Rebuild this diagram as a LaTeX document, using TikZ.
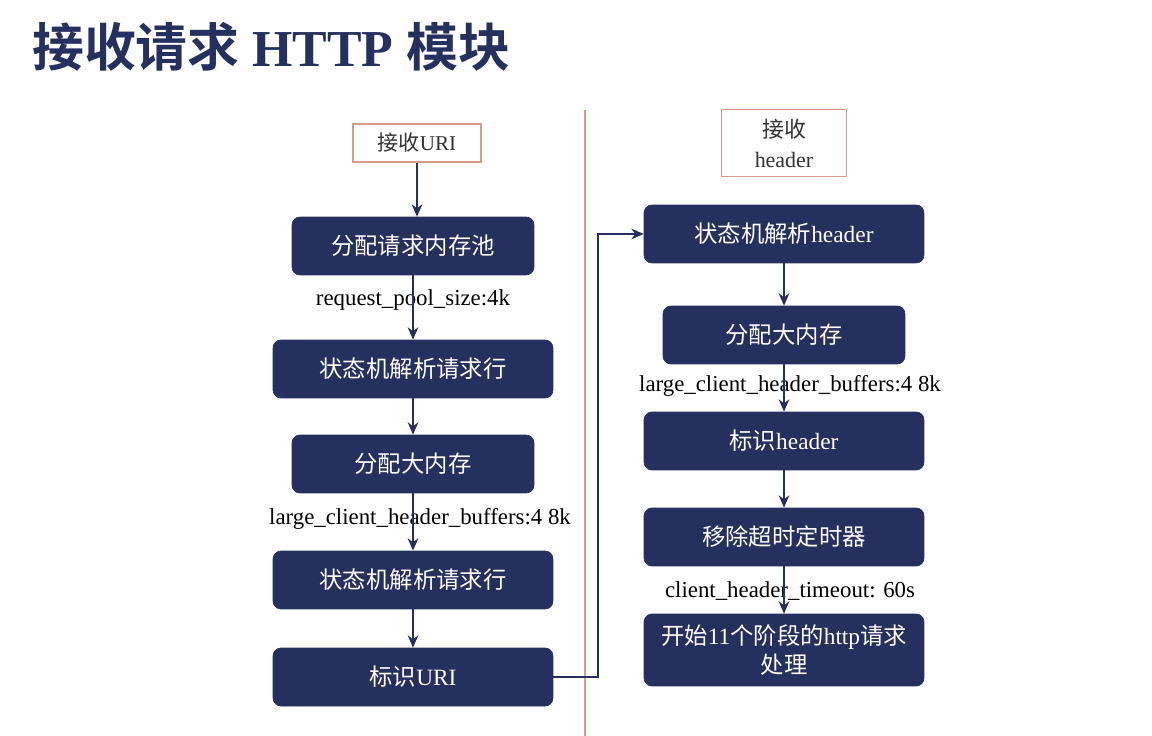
\documentclass[tikz,border=0pt]{standalone}
\usepackage{fontspec}
\setmainfont{Liberation Serif}
\newfontfamily\cjk{Noto Sans CJK SC}
\newfontfamily\cjkheavy{Noto Sans CJK SC Black}
\newcommand\zh[1]{{\cjk #1}}
\usetikzlibrary{arrows.meta}
\definecolor{navy}{HTML}{25305E}
\definecolor{salmon}{HTML}{D79C88}
\definecolor{inkgray}{HTML}{333333}
\begin{document}
\begin{tikzpicture}
    [x=0.02cm,y=-0.02cm,
     blk/.style={draw=navy,fill=navy,rounded corners=0.16cm,text=white,minimum height=1.16cm,align=center,inner sep=2pt,font=\fontsize{13.3}{17}\selectfont},
     wide/.style={blk,minimum width=5.6cm},
     narrow/.style={blk,minimum width=4.84cm},
     start/.style={draw=salmon,line width=0.8pt,fill=white,text=inkgray,align=center,inner sep=2pt},
     lbl/.style={font=\fontsize{13}{15}\selectfont,text=black},
     arr/.style={navy,line width=1.3pt,-{Stealth[length=7pt,width=6pt]}}]
    \useasboundingbox (0,0) rectangle (1152,736);
    \node[anchor=west,text=navy,font=\fontsize{29.5}{32}\selectfont\bfseries] (title) at (26,47) {{\cjkheavy 接收请求} HTTP {\cjkheavy 模块}};
    \draw[salmon,line width=0.6pt] (585,110) -- (585,736);

    \node[start,minimum width=2.56cm,minimum height=0.76cm,font=\fontsize{12}{14}\selectfont] (uri) at (417,143) {\zh{接收}URI};
    \node[narrow] (pool) at (413,246) {\zh{分配请求内存池}};
    \node[lbl] (poolsize) at (413,300) {request\_pool\_size:4k};
    \node[wide] (line1) at (413,369) {\zh{状态机解析请求行}};
    \node[narrow] (big1) at (413,464) {\zh{分配大内存}};
    \node[lbl] (buf1) at (420,519) {large\_client\_header\_buffers:4 8k};
    \node[wide] (line2) at (413,580) {\zh{状态机解析请求行}};
    \node[wide] (markuri) at (413,677) {\zh{标识}URI};

    \node[start,minimum width=2.5cm,minimum height=1.34cm,font=\fontsize{12.5}{17}\selectfont] (hdr) at (784,143) {\zh{接收}\\header};
    \node[wide] (parse) at (784,234) {\zh{状态机解析}header};
    \node[narrow] (big2) at (784,335) {\zh{分配大内存}};
    \node[lbl] (buf2) at (790,386) {large\_client\_header\_buffers:4 8k};
    \node[wide] (markhdr) at (784,441) {\zh{标识}header};
    \node[wide] (timer) at (784,537) {\zh{移除超时定时器}};
    \node[lbl] (tmo) at (790,591) {client\_header\_timeout: 60s};
    \node[wide,minimum height=1.44cm] (phase) at (784,650) {\zh{开始}11\zh{个阶段的}http\zh{请求}\\\zh{处理}};

    \draw[arr] (uri.south) -- (uri.south |- pool.north);
    \draw[arr] (pool) -- (line1);
    \draw[arr] (line1) -- (big1);
    \draw[arr] (big1) -- (line2);
    \draw[arr] (line2) -- (markuri);
    \draw[arr] (markuri.east) -- ++(45,0) |- (parse.west);
    \draw[arr] (parse) -- (big2);
    \draw[arr] (big2) -- (markhdr);
    \draw[arr] (markhdr) -- (timer);
    \draw[arr] (timer) -- (phase);
  \end{tikzpicture}
\end{document}
